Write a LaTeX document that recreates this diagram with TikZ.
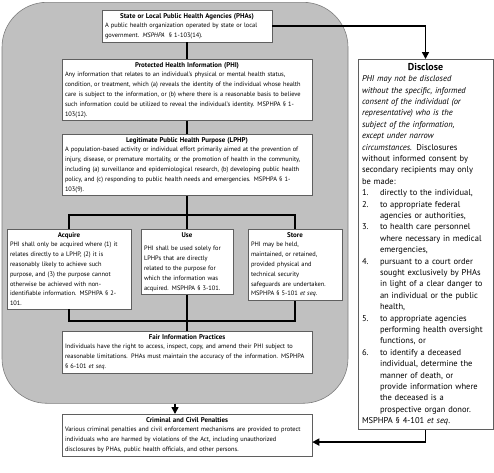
\documentclass[tikz,border=0pt]{standalone}
\usepackage{fontspec}
\setmainfont{PT Sans}
\usetikzlibrary{arrows.meta}

\definecolor{zonegray}{RGB}{192,192,192}
\definecolor{zoneedge}{RGB}{125,125,125}
\definecolor{boxedge}{RGB}{95,95,95}

\newcommand{\boxhead}[1]{{\centering\bfseries\fontsize{6.9}{9.8}\selectfont #1\par}}
\newcommand{\numitem}[2]{{\let\\\newline\hangindent=18pt\hangafter=1\noindent\makebox[18pt][l]{#1}#2\par}}

\begin{document}
\begin{tikzpicture}[x=1pt,y=-1pt,
  box/.style={draw=boxedge, fill=white, line width=0.5pt, inner xsep=3pt, inner ysep=3pt,
    anchor=north, align=left, font=\fontsize{6.4}{9.8}\selectfont},
  link/.style={line width=1.5pt},
  arr/.style={link, -{Triangle[length=7pt,width=7pt]}}]

\useasboundingbox (0,0) rectangle (494,472);

\draw(175,2) node[anchor=north, fill=zonegray, draw=zoneedge, line width=0.6pt, rounded corners=45pt,
  minimum width=346pt, minimum height=401pt] (zone) {};

\draw(187,10) node[box, text width=164pt] (pha) {\boxhead{State or Local Public Health Agencies (PHAs)}%
A public health organization operated by state or local\\government. \textit{MSPHPA} \ § 1-103(14).};

\draw(187,59) node[box, text width=244pt] (phi) {\boxhead{Protected Health Information (PHI)}%
Any information that relates to an individual’s physical or mental health status,\\
condition, or treatment, which (a) reveals the identity of the individual whose health\\
care is subject to the information, or (b) where there is a reasonable basis to believe\\
such information could be utilized to reveal the individual’s identity. MSPHPA § 1-\\
103(12).};

\draw(187,134) node[box, text width=244pt] (lphp) {\boxhead{Legitimate Public Health Purpose (LPHP)}%
A population-based activity or individual effort primarily aimed at the prevention of\\
injury, disease, or premature mortality, or the promotion of health in the community,\\
including (a) surveillance and epidemiological research, (b) developing public health\\
policy, and (c) responding to public health needs and emergencies. MSPHPA § 1-\\
103(9).};

\draw(69,229) node[box, text width=118pt] (acquire) {\boxhead{Acquire}%
PHI shall only be acquired where (1) it\\
relates directly to a LPHP, (2) it is\\
reasonably likely to achieve such\\
purpose, and (3) the purpose cannot\\
otherwise be achieved with non-\\
identifiable information. MSPHPA § 2-\\
101.};

\draw(187,229) node[box, text width=86pt] (use) {\boxhead{Use}\vspace{4pt}%
PHI shall be used solely for\\
LPHPs that are directly\\
related to the purpose for\\
which the information was\\
acquired. MSPHPA § 3-101.};

\draw(295,229) node[box, text width=88pt] (store) {\boxhead{Store}%
PHI may be held,\\
maintained, or retained,\\
provided physical and\\
technical security\\
safeguards are undertaken.\\
MSPHPA § 5-101 \textit{et seq}.};

\draw(187,331) node[box, text width=244pt] (fair) {\boxhead{Fair Information Practices}%
Individuals have the right to access, inspect, copy, and amend their PHI subject to\\
reasonable limitations. PHAs must maintain the accuracy of the information. MSPHPA\\
§ 6-101 \textit{et seq}.};

\draw(187,414) node[box, text width=244pt] (penalty) {\boxhead{Criminal and Civil Penalties}%
Various criminal penalties and civil enforcement mechanisms are provided to protect\\
individuals who are harmed by violations of the Act, including unauthorized\\
disclosures by PHAs, public health officials, and other persons.};

\draw(425.5,59) node[box, text width=127pt, inner xsep=4pt, inner ysep=4pt, font=\fontsize{8.5}{11.4}\selectfont] (disclose) {%
{\centering\bfseries\fontsize{10}{12}\selectfont Disclose\par}%
\textit{PHI may not be disclosed\\
without the specific, informed\\
consent of the individual (or\\
representative) who is the\\
subject of the information,\\
except under narrow\\
circumstances.} Disclosures\\
without informed consent by\\
secondary recipients may only\\
be made:\par
\numitem{1.}{directly to the individual,}
\numitem{2.}{to appropriate federal\\agencies or authorities,}
\numitem{3.}{to health care personnel\\where necessary in medical\\emergencies,}
\numitem{4.}{pursuant to a court order\\sought exclusively by PHAs\\in light of a clear danger to\\an individual or the public\\health,}
\numitem{5.}{to appropriate agencies\\performing health oversight\\functions, or}
\numitem{6.}{to identify a deceased\\individual, determine the\\manner of death, or\\provide information where\\the deceased is a\\prospective organ donor.}
\noindent MSPHPA § 4-101 \textit{et seq}.};

\draw[link] (pha) -- (phi);
\draw[link] (phi) -- (lphp);
\draw[link] (lphp) -- (use);
\draw[link] (acquire.north) |- (187,215) -| (store.north);
\draw[link] (use) -- (fair);
\draw[link] (acquire.south) |- (187,321) -| (store.south);
\draw[arr] (pha.east) -| (disclose.north);
\draw[arr] (zone.south) -- (zone.south |- penalty.north);
\draw[arr] (disclose.south) |- ([yshift=-7pt]penalty.east);

\end{tikzpicture}
\end{document}
